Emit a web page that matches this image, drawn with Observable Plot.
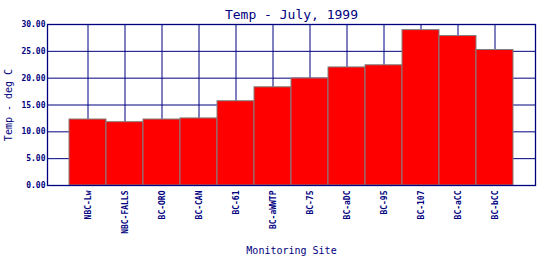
<!DOCTYPE html>
<html><head><meta charset="utf-8">
<script src="https://cdn.jsdelivr.net/npm/d3@7"></script>
<script src="https://cdn.jsdelivr.net/npm/@observablehq/plot@0.6"></script>
<style>body{margin:0;background:#fff}</style>
</head><body><div id="chart"></div>
<script>
const sites = ["NBC-Lw","NBC-FALLS","BC-ORO","BC-CAN","BC-61","BC-aWWTP","BC-75","BC-aDC","BC-95","BC-107","BC-aCC","BC-bCC"];
const temps = [12.3, 11.8, 12.3, 12.5, 15.7, 18.3, 19.95, 22.0, 22.4, 28.95, 27.85, 25.25];
const yTicks = [0, 5, 10, 15, 20, 25, 30];
const gridYValues = [5, 10, 15, 20, 25];
const title = "Temp - July, 1999";
const yLabel = "Temp - deg C";
const xLabel = "Monitoring Site";

const data = sites.map((s, i) => ({site: s, temp: temps[i]}));
const navy = "#000080";

const chart = Plot.plot({
  width: 540, height: 260,
  marginLeft: 47, marginRight: 5, marginTop: 24, marginBottom: 75,
  style: {fontFamily: "'DejaVu Sans Mono', monospace", background: "white", color: navy},
  x: {domain: sites, paddingInner: 0, paddingOuter: 0.5},
  y: {domain: [0, 30]},
  marks: [
    Plot.ruleY(gridYValues, {stroke: navy, strokeWidth: 1}),
    Plot.ruleX(sites, {x: d => d, stroke: navy, strokeWidth: 1}),
    Plot.barY(data, {x: "site", y: "temp", fill: "red", stroke: "#808080", strokeWidth: 1}),
    Plot.frame({stroke: navy, strokeWidth: 1.3}),
    Plot.axisY({ticks: yTicks, tickFormat: d => d.toFixed(2), tickSize: 0, tickPadding: 2, fontSize: 8, fontWeight: "bold", fill: navy, label: null}),
    Plot.axisX({tickRotate: -90, tickSize: 0, tickPadding: 5, fontSize: 8, fontWeight: "bold", fill: navy, label: null}),
    Plot.text([title], {frameAnchor: "top", dy: -15, fontSize: 13, fill: navy}),
    Plot.text([yLabel], {frameAnchor: "left", dx: -39, rotate: -90, textAnchor: "middle", fontSize: 10, fill: navy}),
    Plot.text([xLabel], {frameAnchor: "bottom", dy: 68, fontSize: 10, fill: navy})
  ]
});
document.getElementById("chart").append(chart);
</script>
</body></html>
